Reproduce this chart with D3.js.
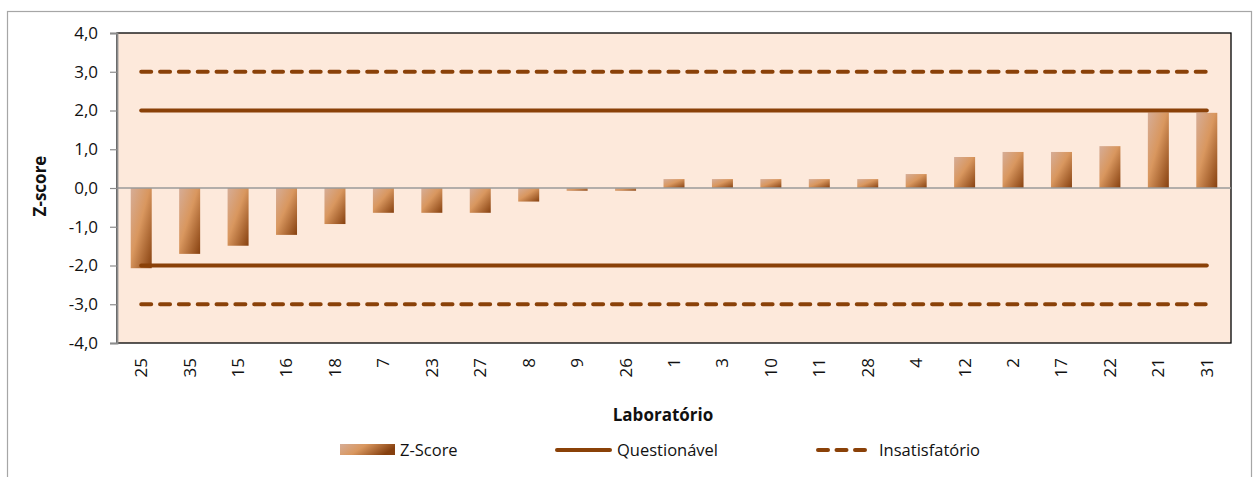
<!DOCTYPE html>
<html>
<head>
<meta charset="utf-8">
<script src="https://cdn.jsdelivr.net/npm/d3@7"></script>
<style>
  html, body { margin: 0; padding: 0; background: #ffffff; }
  svg { display: block; }
  text { font-family: "Open Sans", "Noto Sans", sans-serif; fill: #111111; }
</style>
</head>
<body>
<svg id="chart" width="1259" height="477"></svg>
<script>
// Laboratories, ordered by z-score
const labs = ["25","35","15","16","18","7","23","27","8","9","26","1","3","10","11","28","4","12","2","17","22","21","31"];
const zScores = [-2.07,-1.70,-1.49,-1.21,-0.93,-0.64,-0.64,-0.64,-0.35,-0.07,-0.07,0.23,0.23,0.23,0.23,0.23,0.36,0.80,0.93,0.93,1.08,1.95,1.94];
// Limits: |z| = 2 questionable, |z| = 3 unsatisfactory
const questionableLimits = [2, -2];
const unsatisfactoryLimits = [3, -3];
const yTicks = [-4,-3,-2,-1,0,1,2,3,4];
const legendItems = ["Z-Score", "Questionável", "Insatisfatório"];

const svg = d3.select("#chart");
const plot = { left: 117, top: 33, right: 1231, bottom: 343 };
const lineColor = "#8a4108";

// outer chart frame
svg.append("rect")
  .attr("x", 7.5).attr("y", 11.5)
  .attr("width", 1244).attr("height", 480)
  .attr("fill", "#ffffff").attr("stroke", "#a6a6a6").attr("stroke-width", 1.2);

const defs = svg.append("defs");
function addGradient(id, x2, y2) {
  const g = defs.append("linearGradient")
    .attr("id", id).attr("x1", 0).attr("y1", 0).attr("x2", x2).attr("y2", y2);
  g.append("stop").attr("offset", "0%").attr("stop-color", "#d6ad97");
  g.append("stop").attr("offset", "45%").attr("stop-color", "#d9975f");
  g.append("stop").attr("offset", "100%").attr("stop-color", "#86400f");
}
addGradient("barGrad", 1, 1);
addGradient("legGrad", 1, 0.3);

const xc = d3.scaleBand().domain(labs).range([plot.left, plot.right]);
const y = d3.scaleLinear().domain([-4, 4]).range([plot.bottom, plot.top]);
const barW = 21;

// plot background
svg.append("rect")
  .attr("x", plot.left).attr("y", plot.top)
  .attr("width", plot.right - plot.left).attr("height", plot.bottom - plot.top)
  .attr("fill", "#fde9db").attr("stroke", "#000000").attr("stroke-width", 1.3);

// bars
svg.append("g").selectAll("rect")
  .data(labs.map((l, i) => ({ lab: l, z: zScores[i] })))
  .join("rect")
  .attr("x", d => xc(d.lab) + xc.bandwidth() / 2 - barW / 2)
  .attr("width", barW)
  .attr("y", d => y(Math.max(0, d.z)))
  .attr("height", d => Math.abs(y(d.z) - y(0)))
  .attr("fill", "url(#barGrad)");

// zero line
svg.append("line")
  .attr("x1", plot.left).attr("x2", plot.right)
  .attr("y1", y(0)).attr("y2", y(0))
  .attr("stroke", "#9a9a9a").attr("stroke-width", 1.6);

// limit lines spanning first to last category centre
const xFirst = xc(labs[0]) + xc.bandwidth() / 2;
const xLast = xc(labs[labs.length - 1]) + xc.bandwidth() / 2;
svg.append("g").selectAll("line")
  .data(questionableLimits).join("line")
  .attr("x1", xFirst).attr("x2", xLast)
  .attr("y1", d => y(d)).attr("y2", d => y(d))
  .attr("stroke", lineColor).attr("stroke-width", 4).attr("stroke-linecap", "round");
svg.append("g").selectAll("line")
  .data(unsatisfactoryLimits).join("line")
  .attr("x1", xFirst).attr("x2", xLast)
  .attr("y1", d => y(d)).attr("y2", d => y(d))
  .attr("stroke", lineColor).attr("stroke-width", 4).attr("stroke-linecap", "round")
  .attr("stroke-dasharray", "10 8.83");

// y axis
const yAxis = d3.axisLeft(y).tickValues(yTicks).tickSize(7).tickPadding(12)
  .tickFormat(d => d3.format(".1f")(d).replace(".", ",").replace("−", "-"));
const gy = svg.append("g").attr("transform", `translate(${plot.left},0)`).call(yAxis);
gy.select(".domain").attr("stroke", "#8c8c8c").attr("stroke-width", 1.8);
gy.selectAll(".tick line").attr("stroke", "#8c8c8c").attr("stroke-width", 1.2);
gy.selectAll(".tick text").attr("font-size", 17).attr("fill", "#111111")
  .style("font-family", '"Open Sans", sans-serif');

// x axis labels (rotated)
const xAxis = d3.axisBottom(xc).tickSize(0).tickPadding(0);
const gx = svg.append("g").attr("transform", `translate(0,${plot.bottom})`).call(xAxis);
gx.select(".domain").remove();
gx.selectAll(".tick text")
  .attr("font-size", 17).attr("fill", "#111111")
  .style("font-family", '"Open Sans", sans-serif')
  .attr("text-anchor", "end")
  .attr("dy", "0.35em").attr("y", 0).attr("x", 0)
  .attr("transform", "translate(0,15) rotate(-90)");

// axis titles
svg.append("text")
  .attr("x", 663).attr("y", 421)
  .attr("text-anchor", "middle").attr("font-weight", "bold").attr("font-size", 17)
  .text("Laboratório");
svg.append("text")
  .attr("transform", "translate(46,186) rotate(-90)")
  .attr("text-anchor", "middle").attr("font-weight", "bold").attr("font-size", 17)
  .text("Z-score");

// legend
const lg = svg.append("g");
lg.append("rect").attr("x", 340).attr("y", 444).attr("width", 55).attr("height", 11)
  .attr("fill", "url(#legGrad)");
lg.append("text").attr("x", 400).attr("y", 456).attr("font-size", 16.5).text(legendItems[0]);
lg.append("line").attr("x1", 557).attr("x2", 610).attr("y1", 450).attr("y2", 450)
  .attr("stroke", lineColor).attr("stroke-width", 4).attr("stroke-linecap", "round");
lg.append("text").attr("x", 617).attr("y", 456).attr("font-size", 16.5).text(legendItems[1]);
lg.append("line").attr("x1", 818).attr("x2", 865).attr("y1", 450).attr("y2", 450)
  .attr("stroke", lineColor).attr("stroke-width", 4).attr("stroke-linecap", "round")
  .attr("stroke-dasharray", "10 8.5");
lg.append("text").attr("x", 879).attr("y", 456).attr("font-size", 16.5).text(legendItems[2]);
</script>
</body>
</html>
